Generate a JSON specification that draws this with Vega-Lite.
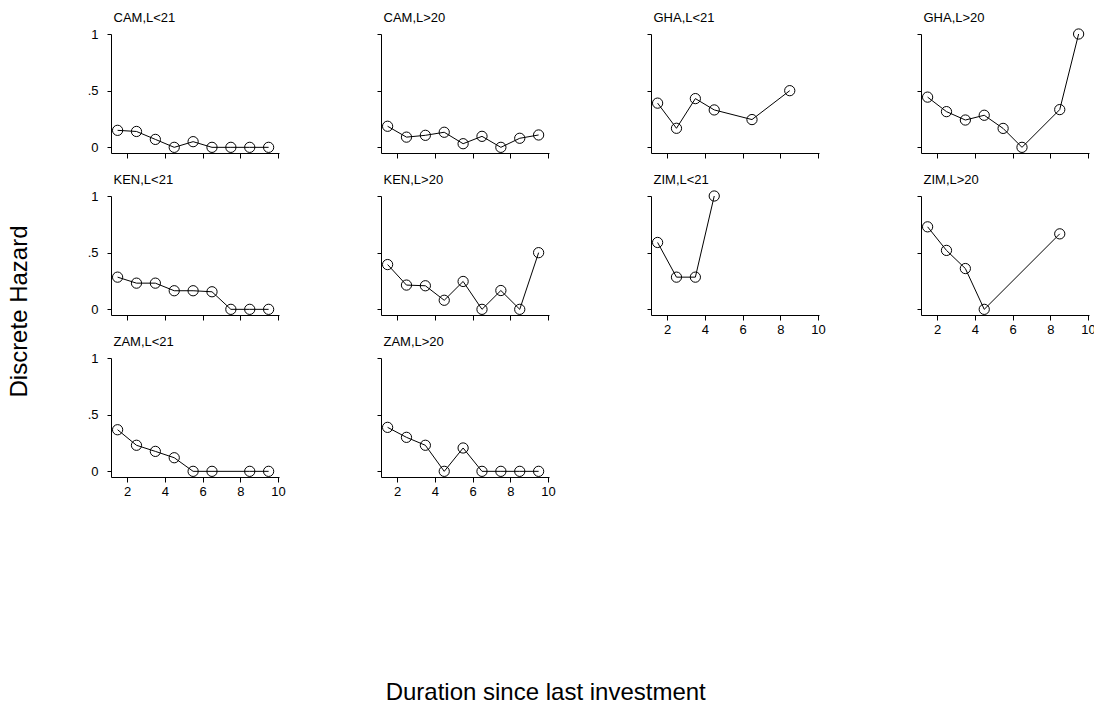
{
  "$schema": "https://vega.github.io/schema/vega-lite/v6.json",
  "padding": {"left": 8, "top": 11, "right": 0, "bottom": 0},
  "background": "white",
  "data": {"values": [
    {"panel": "CAM,L<21", "duration": 1.5, "hazard": 0.15},
    {"panel": "CAM,L<21", "duration": 2.5, "hazard": 0.14},
    {"panel": "CAM,L<21", "duration": 3.5, "hazard": 0.07},
    {"panel": "CAM,L<21", "duration": 4.5, "hazard": 0},
    {"panel": "CAM,L<21", "duration": 5.5, "hazard": 0.05},
    {"panel": "CAM,L<21", "duration": 6.5, "hazard": 0},
    {"panel": "CAM,L<21", "duration": 7.5, "hazard": 0},
    {"panel": "CAM,L<21", "duration": 8.5, "hazard": 0},
    {"panel": "CAM,L<21", "duration": 9.5, "hazard": 0},
    {"panel": "CAM,L>20", "duration": 1.5, "hazard": 0.186},
    {"panel": "CAM,L>20", "duration": 2.5, "hazard": 0.09},
    {"panel": "CAM,L>20", "duration": 3.5, "hazard": 0.106},
    {"panel": "CAM,L>20", "duration": 4.5, "hazard": 0.133},
    {"panel": "CAM,L>20", "duration": 5.5, "hazard": 0.032},
    {"panel": "CAM,L>20", "duration": 6.5, "hazard": 0.097},
    {"panel": "CAM,L>20", "duration": 7.5, "hazard": 0},
    {"panel": "CAM,L>20", "duration": 8.5, "hazard": 0.08},
    {"panel": "CAM,L>20", "duration": 9.5, "hazard": 0.109},
    {"panel": "GHA,L<21", "duration": 1.5, "hazard": 0.39},
    {"panel": "GHA,L<21", "duration": 2.5, "hazard": 0.168},
    {"panel": "GHA,L<21", "duration": 3.5, "hazard": 0.43},
    {"panel": "GHA,L<21", "duration": 4.5, "hazard": 0.33},
    {"panel": "GHA,L<21", "duration": 6.5, "hazard": 0.245},
    {"panel": "GHA,L<21", "duration": 8.5, "hazard": 0.5},
    {"panel": "GHA,L>20", "duration": 1.5, "hazard": 0.443},
    {"panel": "GHA,L>20", "duration": 2.5, "hazard": 0.315},
    {"panel": "GHA,L>20", "duration": 3.5, "hazard": 0.241},
    {"panel": "GHA,L>20", "duration": 4.5, "hazard": 0.283},
    {"panel": "GHA,L>20", "duration": 5.5, "hazard": 0.167},
    {"panel": "GHA,L>20", "duration": 6.5, "hazard": 0},
    {"panel": "GHA,L>20", "duration": 8.5, "hazard": 0.333},
    {"panel": "GHA,L>20", "duration": 9.5, "hazard": 1},
    {"panel": "KEN,L<21", "duration": 1.5, "hazard": 0.284},
    {"panel": "KEN,L<21", "duration": 2.5, "hazard": 0.231},
    {"panel": "KEN,L<21", "duration": 3.5, "hazard": 0.231},
    {"panel": "KEN,L<21", "duration": 4.5, "hazard": 0.164},
    {"panel": "KEN,L<21", "duration": 5.5, "hazard": 0.164},
    {"panel": "KEN,L<21", "duration": 6.5, "hazard": 0.155},
    {"panel": "KEN,L<21", "duration": 7.5, "hazard": 0},
    {"panel": "KEN,L<21", "duration": 8.5, "hazard": 0},
    {"panel": "KEN,L<21", "duration": 9.5, "hazard": 0},
    {"panel": "KEN,L>20", "duration": 1.5, "hazard": 0.395},
    {"panel": "KEN,L>20", "duration": 2.5, "hazard": 0.214},
    {"panel": "KEN,L>20", "duration": 3.5, "hazard": 0.208},
    {"panel": "KEN,L>20", "duration": 4.5, "hazard": 0.08},
    {"panel": "KEN,L>20", "duration": 5.5, "hazard": 0.246},
    {"panel": "KEN,L>20", "duration": 6.5, "hazard": 0},
    {"panel": "KEN,L>20", "duration": 7.5, "hazard": 0.166},
    {"panel": "KEN,L>20", "duration": 8.5, "hazard": 0},
    {"panel": "KEN,L>20", "duration": 9.5, "hazard": 0.5},
    {"panel": "ZIM,L<21", "duration": 1.5, "hazard": 0.59},
    {"panel": "ZIM,L<21", "duration": 2.5, "hazard": 0.284},
    {"panel": "ZIM,L<21", "duration": 3.5, "hazard": 0.284},
    {"panel": "ZIM,L<21", "duration": 4.5, "hazard": 1},
    {"panel": "ZIM,L>20", "duration": 1.5, "hazard": 0.728},
    {"panel": "ZIM,L>20", "duration": 2.5, "hazard": 0.52},
    {"panel": "ZIM,L>20", "duration": 3.5, "hazard": 0.36},
    {"panel": "ZIM,L>20", "duration": 4.5, "hazard": 0},
    {"panel": "ZIM,L>20", "duration": 8.5, "hazard": 0.666},
    {"panel": "ZAM,L<21", "duration": 1.5, "hazard": 0.367},
    {"panel": "ZAM,L<21", "duration": 2.5, "hazard": 0.23},
    {"panel": "ZAM,L<21", "duration": 3.5, "hazard": 0.176},
    {"panel": "ZAM,L<21", "duration": 4.5, "hazard": 0.12},
    {"panel": "ZAM,L<21", "duration": 5.5, "hazard": 0},
    {"panel": "ZAM,L<21", "duration": 6.5, "hazard": 0},
    {"panel": "ZAM,L<21", "duration": 8.5, "hazard": 0},
    {"panel": "ZAM,L<21", "duration": 9.5, "hazard": 0},
    {"panel": "ZAM,L>20", "duration": 1.5, "hazard": 0.388},
    {"panel": "ZAM,L>20", "duration": 2.5, "hazard": 0.3},
    {"panel": "ZAM,L>20", "duration": 3.5, "hazard": 0.23},
    {"panel": "ZAM,L>20", "duration": 4.5, "hazard": 0},
    {"panel": "ZAM,L>20", "duration": 5.5, "hazard": 0.206},
    {"panel": "ZAM,L>20", "duration": 6.5, "hazard": 0},
    {"panel": "ZAM,L>20", "duration": 7.5, "hazard": 0},
    {"panel": "ZAM,L>20", "duration": 8.5, "hazard": 0},
    {"panel": "ZAM,L>20", "duration": 9.5, "hazard": 0}
  ]},
  "title": {"text": "Duration since last investment", "orient": "bottom", "anchor": "middle", "frame": "bounds", "fontSize": 24, "font": "Liberation Sans", "fontWeight": "normal", "baseline": "alphabetic", "offset": 202, "dx": -6, "color": "black"},
  "vconcat": [
    {
      "title": {"text": "Discrete Hazard", "orient": "left", "anchor": "middle", "frame": "bounds", "fontSize": 24, "font": "Liberation Sans", "fontWeight": "normal", "baseline": "alphabetic", "offset": 36, "dx": -57, "color": "black"},
      "bounds": "flush",
      "columns": 4,
      "spacing": {"row": 43, "column": 102},
      "concat": [
        {
          "width": 168, "height": 119,
          "transform": [{"filter": {"field": "panel", "equal": "CAM,L<21"}}],
          "encoding": {
            "x": {"field": "duration", "type": "quantitative", "scale": {"domain": [1.15, 10.05], "nice": false, "zero": false}, "axis": {"values": [2, 4, 6, 8, 10], "labels": false}},
            "y": {"field": "hazard", "type": "quantitative", "scale": {"domain": [-0.05, 1], "nice": false, "zero": false}, "axis": {"title": "CAM,L<21", "values": [0, 0.5, 1], "labels": true, "labelExpr": "datum.value == 0 ? '0' : (datum.value == 1 ? '1' : '.5')"}}
          },
          "layer": [
            {"mark": {"type": "line", "color": "black", "strokeWidth": 1}},
            {"mark": {"type": "point", "shape": "circle", "filled": false, "color": "black", "size": 105, "strokeWidth": 1, "opacity": 1}}
          ]
        },
        {
          "width": 168, "height": 119,
          "transform": [{"filter": {"field": "panel", "equal": "CAM,L>20"}}],
          "encoding": {
            "x": {"field": "duration", "type": "quantitative", "scale": {"domain": [1.15, 10.05], "nice": false, "zero": false}, "axis": {"values": [2, 4, 6, 8, 10], "labels": false}},
            "y": {"field": "hazard", "type": "quantitative", "scale": {"domain": [-0.05, 1], "nice": false, "zero": false}, "axis": {"title": "CAM,L>20", "values": [0, 0.5, 1], "labels": false}}
          },
          "layer": [
            {"mark": {"type": "line", "color": "black", "strokeWidth": 1}},
            {"mark": {"type": "point", "shape": "circle", "filled": false, "color": "black", "size": 105, "strokeWidth": 1, "opacity": 1}}
          ]
        },
        {
          "width": 168, "height": 119,
          "transform": [{"filter": {"field": "panel", "equal": "GHA,L<21"}}],
          "encoding": {
            "x": {"field": "duration", "type": "quantitative", "scale": {"domain": [1.15, 10.05], "nice": false, "zero": false}, "axis": {"values": [2, 4, 6, 8, 10], "labels": false}},
            "y": {"field": "hazard", "type": "quantitative", "scale": {"domain": [-0.05, 1], "nice": false, "zero": false}, "axis": {"title": "GHA,L<21", "values": [0, 0.5, 1], "labels": false}}
          },
          "layer": [
            {"mark": {"type": "line", "color": "black", "strokeWidth": 1}},
            {"mark": {"type": "point", "shape": "circle", "filled": false, "color": "black", "size": 105, "strokeWidth": 1, "opacity": 1}}
          ]
        },
        {
          "width": 168, "height": 119,
          "transform": [{"filter": {"field": "panel", "equal": "GHA,L>20"}}],
          "encoding": {
            "x": {"field": "duration", "type": "quantitative", "scale": {"domain": [1.15, 10.05], "nice": false, "zero": false}, "axis": {"values": [2, 4, 6, 8, 10], "labels": false}},
            "y": {"field": "hazard", "type": "quantitative", "scale": {"domain": [-0.05, 1], "nice": false, "zero": false}, "axis": {"title": "GHA,L>20", "values": [0, 0.5, 1], "labels": false}}
          },
          "layer": [
            {"mark": {"type": "line", "color": "black", "strokeWidth": 1}},
            {"mark": {"type": "point", "shape": "circle", "filled": false, "color": "black", "size": 105, "strokeWidth": 1, "opacity": 1}}
          ]
        },
        {
          "width": 168, "height": 119,
          "transform": [{"filter": {"field": "panel", "equal": "KEN,L<21"}}],
          "encoding": {
            "x": {"field": "duration", "type": "quantitative", "scale": {"domain": [1.15, 10.05], "nice": false, "zero": false}, "axis": {"values": [2, 4, 6, 8, 10], "labels": false}},
            "y": {"field": "hazard", "type": "quantitative", "scale": {"domain": [-0.05, 1], "nice": false, "zero": false}, "axis": {"title": "KEN,L<21", "values": [0, 0.5, 1], "labels": true, "labelExpr": "datum.value == 0 ? '0' : (datum.value == 1 ? '1' : '.5')"}}
          },
          "layer": [
            {"mark": {"type": "line", "color": "black", "strokeWidth": 1}},
            {"mark": {"type": "point", "shape": "circle", "filled": false, "color": "black", "size": 105, "strokeWidth": 1, "opacity": 1}}
          ]
        },
        {
          "width": 168, "height": 119,
          "transform": [{"filter": {"field": "panel", "equal": "KEN,L>20"}}],
          "encoding": {
            "x": {"field": "duration", "type": "quantitative", "scale": {"domain": [1.15, 10.05], "nice": false, "zero": false}, "axis": {"values": [2, 4, 6, 8, 10], "labels": false}},
            "y": {"field": "hazard", "type": "quantitative", "scale": {"domain": [-0.05, 1], "nice": false, "zero": false}, "axis": {"title": "KEN,L>20", "values": [0, 0.5, 1], "labels": false}}
          },
          "layer": [
            {"mark": {"type": "line", "color": "black", "strokeWidth": 1}},
            {"mark": {"type": "point", "shape": "circle", "filled": false, "color": "black", "size": 105, "strokeWidth": 1, "opacity": 1}}
          ]
        },
        {
          "width": 168, "height": 119,
          "transform": [{"filter": {"field": "panel", "equal": "ZIM,L<21"}}],
          "encoding": {
            "x": {"field": "duration", "type": "quantitative", "scale": {"domain": [1.15, 10.05], "nice": false, "zero": false}, "axis": {"values": [2, 4, 6, 8, 10], "labels": true}},
            "y": {"field": "hazard", "type": "quantitative", "scale": {"domain": [-0.05, 1], "nice": false, "zero": false}, "axis": {"title": "ZIM,L<21", "values": [0, 0.5, 1], "labels": false}}
          },
          "layer": [
            {"mark": {"type": "line", "color": "black", "strokeWidth": 1}},
            {"mark": {"type": "point", "shape": "circle", "filled": false, "color": "black", "size": 105, "strokeWidth": 1, "opacity": 1}}
          ]
        },
        {
          "width": 168, "height": 119,
          "transform": [{"filter": {"field": "panel", "equal": "ZIM,L>20"}}],
          "encoding": {
            "x": {"field": "duration", "type": "quantitative", "scale": {"domain": [1.15, 10.05], "nice": false, "zero": false}, "axis": {"values": [2, 4, 6, 8, 10], "labels": true}},
            "y": {"field": "hazard", "type": "quantitative", "scale": {"domain": [-0.05, 1], "nice": false, "zero": false}, "axis": {"title": "ZIM,L>20", "values": [0, 0.5, 1], "labels": false}}
          },
          "layer": [
            {"mark": {"type": "line", "color": "black", "strokeWidth": 1}},
            {"mark": {"type": "point", "shape": "circle", "filled": false, "color": "black", "size": 105, "strokeWidth": 1, "opacity": 1}}
          ]
        },
        {
          "width": 168, "height": 119,
          "transform": [{"filter": {"field": "panel", "equal": "ZAM,L<21"}}],
          "encoding": {
            "x": {"field": "duration", "type": "quantitative", "scale": {"domain": [1.15, 10.05], "nice": false, "zero": false}, "axis": {"values": [2, 4, 6, 8, 10], "labels": true}},
            "y": {"field": "hazard", "type": "quantitative", "scale": {"domain": [-0.05, 1], "nice": false, "zero": false}, "axis": {"title": "ZAM,L<21", "values": [0, 0.5, 1], "labels": true, "labelExpr": "datum.value == 0 ? '0' : (datum.value == 1 ? '1' : '.5')"}}
          },
          "layer": [
            {"mark": {"type": "line", "color": "black", "strokeWidth": 1}},
            {"mark": {"type": "point", "shape": "circle", "filled": false, "color": "black", "size": 105, "strokeWidth": 1, "opacity": 1}}
          ]
        },
        {
          "width": 168, "height": 119,
          "transform": [{"filter": {"field": "panel", "equal": "ZAM,L>20"}}],
          "encoding": {
            "x": {"field": "duration", "type": "quantitative", "scale": {"domain": [1.15, 10.05], "nice": false, "zero": false}, "axis": {"values": [2, 4, 6, 8, 10], "labels": true}},
            "y": {"field": "hazard", "type": "quantitative", "scale": {"domain": [-0.05, 1], "nice": false, "zero": false}, "axis": {"title": "ZAM,L>20", "values": [0, 0.5, 1], "labels": false}}
          },
          "layer": [
            {"mark": {"type": "line", "color": "black", "strokeWidth": 1}},
            {"mark": {"type": "point", "shape": "circle", "filled": false, "color": "black", "size": 105, "strokeWidth": 1, "opacity": 1}}
          ]
        }
      ]
    }
  ],
  "config": {
    "view": {"stroke": null},
    "axis": {"domainColor": "black", "tickColor": "black", "labelColor": "black", "labelFont": "Liberation Sans", "labelFontSize": 13, "grid": false, "domainWidth": 1, "tickWidth": 1, "labelFlush": false, "labelOverlap": false},
    "axisX": {"tickSize": 5, "labelPadding": 3, "title": null},
    "axisY": {"tickSize": 4, "labelPadding": 9, "titleAngle": 0, "titleX": 2, "titleY": -13, "titleAlign": "left", "titleBaseline": "alphabetic", "titleFont": "Liberation Sans", "titleFontSize": 13, "titleFontWeight": "normal", "titleColor": "black", "titlePadding": 0}
  }
}
